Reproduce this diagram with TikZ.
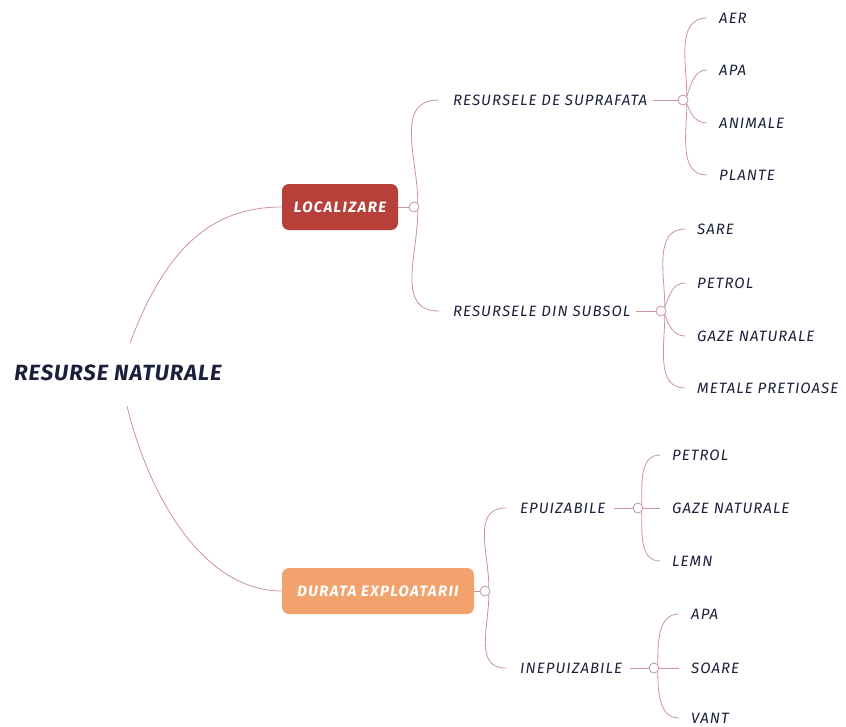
\documentclass[tikz,border=0pt]{standalone}
\usepackage{fontspec}
\setmainfont{Fira Sans}
\begin{document}
\begin{tikzpicture}[x=1pt,y=-1pt,
  conn/.style={draw=linec, line width=0.8pt},
  leaf/.style={anchor=west, inner sep=0pt, text=textc, font=\itshape\fontsize{15}{17}\selectfont\addfontfeature{LetterSpace=7}},
  mid/.style={anchor=west, inner sep=0pt, text=textc, font=\itshape\fontsize{15}{17}\selectfont\addfontfeature{LetterSpace=7}},
  knot/.style={circle, draw=linec, line width=0.8pt, fill=white, minimum size=10pt, inner sep=0pt},
  catbox/.style={rounded corners=7pt, minimum height=46pt, inner sep=0pt, text=white, font=\bfseries\itshape\fontsize{15}{17}\selectfont\addfontfeature{LetterSpace=9}},
]
\definecolor{linec}{HTML}{C99598}
\definecolor{textc}{HTML}{1B1F3B}
\definecolor{redc}{HTML}{B7403B}
\definecolor{orangec}{HTML}{F2A26C}
\useasboundingbox (0,0) rectangle (846,726);

% root
\node[text=textc, font=\bfseries\itshape\fontsize{22}{26}\selectfont\addfontfeature{LetterSpace=4.5}, inner sep=0pt] (root) at (118,373) {RESURSE NATURALE};
\coordinate (rtop) at (130,343);
\coordinate (rbot) at (127,406);

% category boxes
\node[catbox, fill=redc, minimum width=116pt] (loc) at (340,207) {LOCALIZARE};
\node[catbox, fill=orangec, minimum width=192pt] (dur) at (378,591) {DURATA EXPLOATARII};

\draw[conn] (rtop) .. controls (165,250) and (210,207) .. (loc.west);
\draw[conn] (rbot) .. controls (150,500) and (205,591) .. (dur.west);

% knots of categories
\node[knot] (kloc) at (414,207) {};
\node[knot] (kdur) at (485,591) {};
\draw[conn] (loc.east) -- (kloc.west);
\draw[conn] (dur.east) -- (kdur.west);

% second level
\node[mid] (sup) at (453,100) {RESURSELE DE SUPRAFATA};
\node[mid] (sub) at (453,311) {RESURSELE DIN SUBSOL};
\node[mid] (epu) at (520,508) {EPUIZABILE};
\node[mid] (ine) at (520,668) {INEPUIZABILE};

\draw[conn] (kloc.north east) to[out=90,in=180,looseness=1.1] ([xshift=-14pt]sup.west);
\draw[conn] (kloc.south east) to[out=-90,in=180,looseness=1.1] ([xshift=-14pt]sub.west);
\draw[conn] (kdur.north east) to[out=90,in=180,looseness=1.1] ([xshift=-14pt]epu.west);
\draw[conn] (kdur.south east) to[out=-90,in=180,looseness=1.1] ([xshift=-14pt]ine.west);

% knots of second level
\node[knot] (ksup) at (683,100) {};
\node[knot] (ksub) at (661,311) {};
\node[knot] (kepu) at (638,508) {};
\node[knot] (kine) at (654,668) {};
\draw[conn] ([xshift=6pt]sup.east) -- (ksup.west);
\draw[conn] ([xshift=6pt]sub.east) -- (ksub.west);
\draw[conn] ([xshift=8pt]epu.east) -- (kepu.west);
\draw[conn] ([xshift=8pt]ine.east) -- (kine.west);

% leaves: suprafata
\node[leaf] (aer) at (719,18) {AER};
\node[leaf] (apa1) at (719,70) {APA};
\node[leaf] (ani) at (719,123) {ANIMALE};
\node[leaf] (pla) at (719,175) {PLANTE};
\draw[conn] (ksup.north east) to[out=90,in=180] ([xshift=-12pt]aer.west);
\draw[conn] (ksup.north east) to[out=70,in=180] ([xshift=-12pt]apa1.west);
\draw[conn] (ksup.south east) to[out=-70,in=180] ([xshift=-12pt]ani.west);
\draw[conn] (ksup.south east) to[out=-90,in=180] ([xshift=-12pt]pla.west);

% leaves: subsol
\node[leaf] (sare) at (697,229) {SARE};
\node[leaf] (pet1) at (697,283) {PETROL};
\node[leaf] (gaz1) at (697,336) {GAZE NATURALE};
\node[leaf] (met) at (697,388) {METALE PRETIOASE};
\draw[conn] (ksub.north east) to[out=90,in=180] ([xshift=-12pt]sare.west);
\draw[conn] (ksub.north east) to[out=70,in=180] ([xshift=-12pt]pet1.west);
\draw[conn] (ksub.south east) to[out=-70,in=180] ([xshift=-12pt]gaz1.west);
\draw[conn] (ksub.south east) to[out=-90,in=180] ([xshift=-12pt]met.west);

% leaves: epuizabile
\node[leaf] (pet2) at (672,455) {PETROL};
\node[leaf] (gaz2) at (672,508) {GAZE NATURALE};
\node[leaf] (lemn) at (672,561) {LEMN};
\draw[conn] (kepu.north east) to[out=90,in=180] ([xshift=-12pt]pet2.west);
\draw[conn] (kepu.east) -- ([xshift=-12pt]gaz2.west);
\draw[conn] (kepu.south east) to[out=-90,in=180] ([xshift=-12pt]lemn.west);

% leaves: inepuizabile
\node[leaf] (apa2) at (691,614) {APA};
\node[leaf] (soa) at (691,668) {SOARE};
\node[leaf] (vant) at (691,718) {VANT};
\draw[conn] (kine.north east) to[out=90,in=180] ([xshift=-12pt]apa2.west);
\draw[conn] (kine.east) -- ([xshift=-12pt]soa.west);
\draw[conn] (kine.south east) to[out=-90,in=180] ([xshift=-12pt]vant.west);
\end{tikzpicture}
\end{document}
